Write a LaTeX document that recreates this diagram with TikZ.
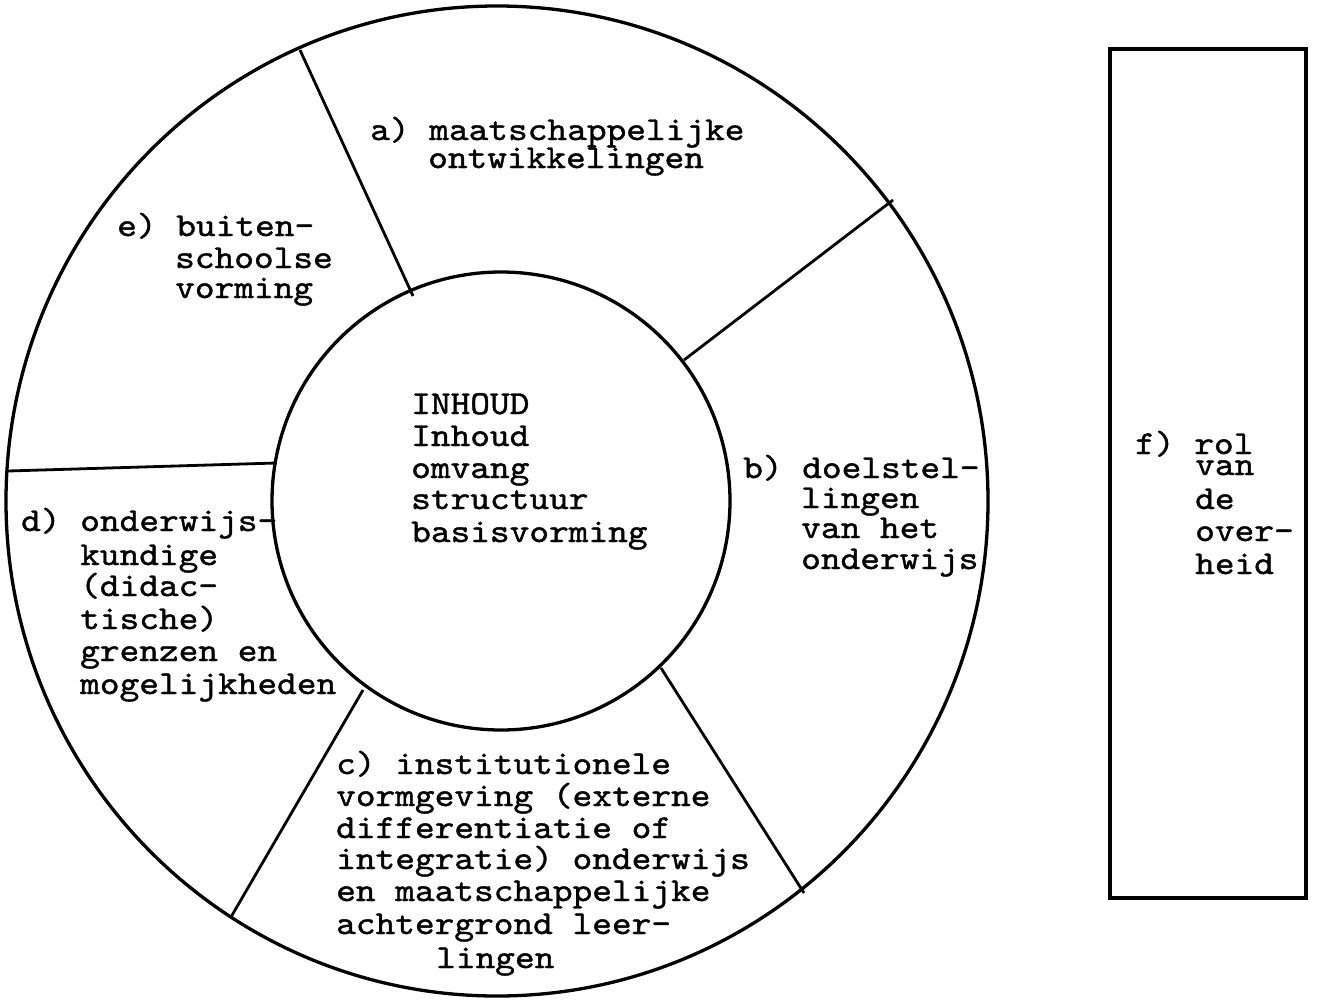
\documentclass[tikz,border=0pt]{standalone}
\usepackage{fontspec}
\newfontfamily\typewriter{lmmono10-regular.otf}[FakeBold=1.2,FakeStretch=1.12]
\begin{document}
\begin{tikzpicture}[x=1pt,y=-1pt,
  txt/.style={anchor=base west, inner sep=0pt, font=\typewriter\fontsize{33.5}{33.5}\selectfont},
  ring/.style={line width=3.3pt},
  divider/.style={line width=2.8pt}]
\useasboundingbox[fill=white] (0,0) rectangle (1317,999);
% circles
\draw[ring] (497,501) ellipse [x radius=491, y radius=495];
\draw[ring] (501,501) circle [radius=229];
% dividers
\draw[divider] (300,50) -- (413,296);
\draw[divider] (893,200) -- (684,360);
\draw[divider] (661,668) -- (804,893);
\draw[divider] (363,690) -- (231,917);
\draw[divider] (8,471) -- (276,463);
% rectangle
\draw[ring] (1110,49) rectangle (1306,898);
% a
\node[txt] (a1) at (370,140) {a) maatschappelijke};
\node[txt] (a2) at (428,168) {ontwikkelingen};
% e
\node[txt] (e1) at (117,236) {e) buiten-};
\node[txt] (e2) at (175,268) {schoolse};
\node[txt] (e3) at (175,298) {vorming};
% centre
\node[txt] (i1) at (411,414) {INHOUD};
\node[txt] (i2) at (411,446) {Inhoud};
\node[txt] (i3) at (411,478) {omvang};
\node[txt] (i4) at (411,509) {structuur};
\node[txt] (i5) at (411,542) {basisvorming};
% b
\node[txt] (b1) at (743,478) {b) doelstel-};
\node[txt] (b2) at (801,508) {lingen};
\node[txt] (b3) at (801,538) {van het};
\node[txt] (b4) at (801,569) {onderwijs};
% d
\node[txt] (d1) at (21,531) {d) onderwijs-};
\node[txt] (d2) at (80,565) {kundige};
\node[txt] (d3) at (80,596) {(didac-};
\node[txt] (d4) at (80,629) {tische)};
\node[txt] (d5) at (80,661) {grenzen en};
\node[txt] (d6) at (80,694) {mogelijkheden};
% c
\node[txt] (c1) at (336,774) {c) institutionele};
\node[txt] (c2) at (336,806) {vormgeving (externe};
\node[txt] (c3) at (336,838) {differentiatie of};
\node[txt] (c4) at (336,869) {integratie) onderwijs};
\node[txt] (c5) at (336,901) {en maatschappelijke};
\node[txt] (c6) at (336,934) {achtergrond leer-};
\node[txt] (c7) at (436,968) {lingen};
% f
\node[txt] (f1) at (1135,454) {f) rol};
\node[txt] (f2) at (1195,475) {van};
\node[txt] (f3) at (1195,509) {de};
\node[txt] (f4) at (1195,541) {over-};
\node[txt] (f5) at (1195,574) {heid};
\end{tikzpicture}
\end{document}
